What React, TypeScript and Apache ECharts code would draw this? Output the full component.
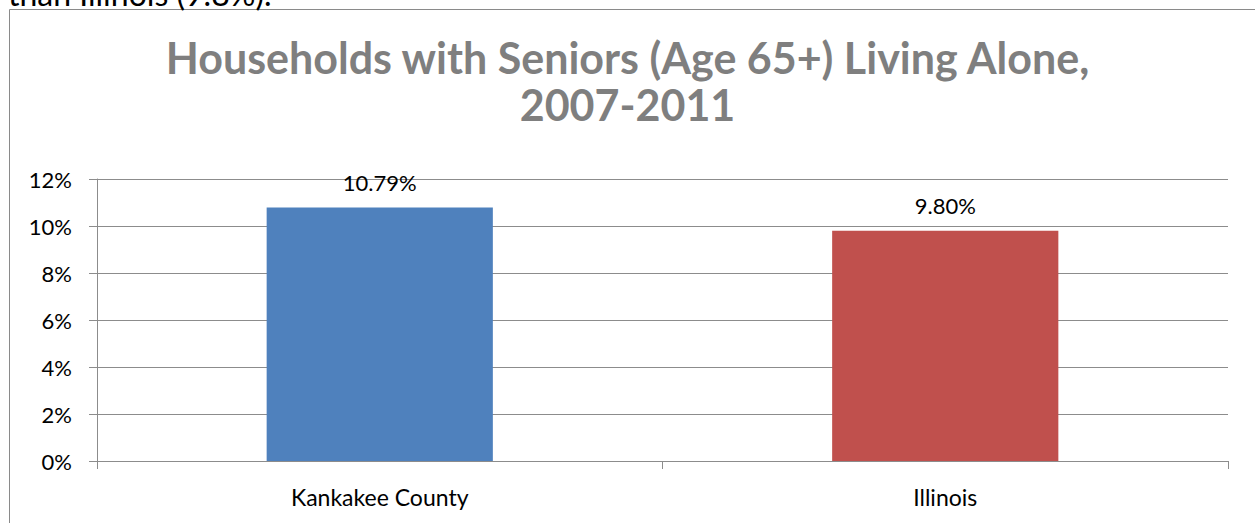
import React, { useEffect, useRef } from "react";
import * as echarts from "echarts";

const categories = ["Kankakee County", "Illinois"];
const values = [0.1079, 0.098];
const barColors = ["#4F81BD", "#C0504D"];
const yTicks = { min: 0, max: 0.12, interval: 0.02 };
const titleText = "Households with Seniors (Age 65+) Living Alone,\n2007-2011";
const aboveText = "than Illinois (9.8%).";

const FONT = "Lato, 'Open Sans', sans-serif";

export default function App() {
  const ref = useRef<HTMLDivElement>(null);
  useEffect(() => {
    if (!ref.current) return;
    const chart = echarts.init(ref.current, undefined, { renderer: "svg" });
    chart.setOption({
      animation: false,
      backgroundColor: "#ffffff",
      title: {
        text: titleText,
        left: "center",
        top: 29,
        textStyle: {
          fontFamily: FONT,
          fontSize: 43,
          fontWeight: "bold",
          color: "#7f7f7f",
          lineHeight: 47,
        },
      },
      graphic: [
        {
          type: "rect",
          shape: { x: 9.5, y: 9.5, width: 1300, height: 600 },
          style: { fill: "none", stroke: "#8a8a8a", lineWidth: 1 },
          silent: true,
        },
        {
          type: "text",
          x: 8,
          y: 9,
          style: {
            text: aboveText,
            fontFamily: FONT,
            fontSize: 32,
            fill: "#000000",
            verticalAlign: "bottom",
          },
        },
      ],
      grid: { left: 97, right: 27, top: 179, bottom: 62 },
      xAxis: {
        type: "category",
        data: categories,
        axisLine: { lineStyle: { color: "#8c8c8c", width: 1 } },
        axisTick: { show: true, length: 8, lineStyle: { color: "#8c8c8c" } },
        axisLabel: {
          margin: 24,
          fontFamily: FONT,
          fontSize: 23,
          color: "#000000",
        },
      },
      yAxis: {
        type: "value",
        min: yTicks.min,
        max: yTicks.max,
        interval: yTicks.interval,
        axisLine: { show: true, lineStyle: { color: "#8c8c8c", width: 1 } },
        axisTick: { show: true, length: 8, lineStyle: { color: "#8c8c8c" } },
        splitLine: { show: true, lineStyle: { color: "#8c8c8c", width: 1 } },
        axisLabel: {
          margin: 25,
          fontFamily: FONT,
          fontSize: 22,
          color: "#000000",
          formatter: (v: number) => `${Math.round(v * 100)}%`,
        },
      },
      series: [
        {
          type: "bar",
          data: values.map((v, i) => ({ value: v, itemStyle: { color: barColors[i] } })),
          barWidth: "40%",
          label: {
            show: true,
            position: "top",
            distance: 14,
            fontFamily: FONT,
            fontSize: 22,
            color: "#000000",
            formatter: (p: any) => `${(p.value * 100).toFixed(2)}%`,
          },
        },
      ],
    });
    return () => chart.dispose();
  }, []);
  return (
    <div
      ref={ref}
      style={{ position: "fixed", left: 0, top: 0, width: 1255, height: 523 }}
    />
  );
}
